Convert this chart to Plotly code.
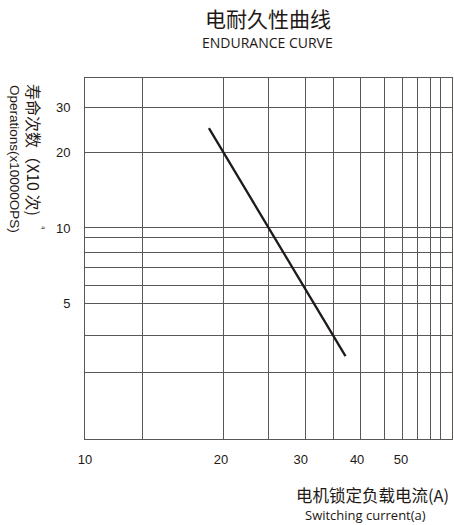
import plotly.graph_objects as go

# Data
current = [18.8, 37.7]          # Switching current (A)
life = [24.9, 3.1]              # Operations (x10^4)

x_tick_vals = [10, 20, 30, 40, 50]
x_tick_text = ["10", "20", "30", "40", "50"]
x_grid_vals = [13.4, 20.3, 25.5, 30.7, 35.4, 40.6, 46.1, 50.5, 54.5, 58, 61.3]

y_tick_vals = [5, 10, 20, 30]
y_tick_text = ["5", "10", "20", "30"]
y_grid_vals = [2.68, 3.76, 5, 5.9, 6.95, 8.0, 9.2, 10, 20, 30]

x_range = [1.0, 1.812]
y_range = [0.1627, 1.595]

GRID = "#5a5656"
TXT = "#231815"
CJK = "Noto Sans CJK SC"
LAT = "Liberation Sans, Arial"

fig = go.Figure()
fig.add_trace(go.Scatter(x=current, y=life, mode="lines",
                         line=dict(color="#1e1a1a", width=2.3),
                         showlegend=False, hoverinfo="skip"))
# invisible trace on overlay axes so they render
fig.add_trace(go.Scatter(x=[current[0]], y=[life[0]], xaxis="x2", yaxis="y2",
                         mode="markers", marker=dict(opacity=0),
                         showlegend=False, hoverinfo="skip"))

fig.update_layout(
    width=454, height=525,
    margin=dict(l=85, r=2, t=78, b=86),
    paper_bgcolor="white", plot_bgcolor="white",
    xaxis=dict(type="log", range=x_range, tickvals=x_tick_vals, ticktext=x_tick_text,
               showgrid=False, zeroline=False, showline=True, mirror=True,
               linecolor=GRID, linewidth=1, ticks="", ticklabelstandoff=8,
               tickfont=dict(family=LAT, size=13, color=TXT)),
    yaxis=dict(type="log", range=y_range, tickvals=y_tick_vals, ticktext=y_tick_text,
               showgrid=False, zeroline=False, showline=True, mirror=True,
               linecolor=GRID, linewidth=1, ticks="", ticklabelstandoff=11,
               tickfont=dict(family=LAT, size=13, color=TXT)),
    xaxis2=dict(type="log", range=x_range, overlaying="x", tickvals=x_grid_vals,
                showticklabels=False, showgrid=True, gridcolor=GRID, gridwidth=1,
                zeroline=False, ticks=""),
    yaxis2=dict(type="log", range=y_range, overlaying="y", tickvals=y_grid_vals,
                showticklabels=False, showgrid=True, gridcolor=GRID, gridwidth=1,
                zeroline=False, ticks=""),
)

ann = [
    dict(text="电耐久性曲线", x=0.4986, y=1.166, font=dict(family=CJK, size=21, color=TXT)),
    dict(text="ENDURANCE CURVE", x=0.4986, y=1.0997, font=dict(family="Open Sans", size=14, color=TXT)),
    dict(text="寿命次数（X10 次)", x=-0.139, y=0.8006, textangle=90,
         font=dict(family=CJK, size=16, color=TXT)),
    dict(text="Operations(x10000OPS)", x=-0.1907, y=0.7756, textangle=90,
         font=dict(family=LAT, size=13.5, color=TXT)),
    dict(text="4", x=-0.1144, y=0.5845, textangle=90,
         font=dict(family=LAT, size=6, color=TXT)),
    dict(text="电机锁定负载电流(A)", x=0.998, y=-0.155, xanchor="right",
         font=dict(family=CJK, size=16.5, color=TXT)),
    dict(text="Switching current(a)", x=0.594, y=-0.2105, xanchor="left",
         font=dict(family="Open Sans", size=13, color=TXT)),
]
for a in ann:
    a.setdefault("xanchor", "center")
    fig.add_annotation(xref="paper", yref="paper", showarrow=False, yanchor="middle", **a)

fig.write_html("out.html", config={"displayModeBar": False},
               post_script="document.body.style.margin='0';document.body.style.overflow='hidden';")
